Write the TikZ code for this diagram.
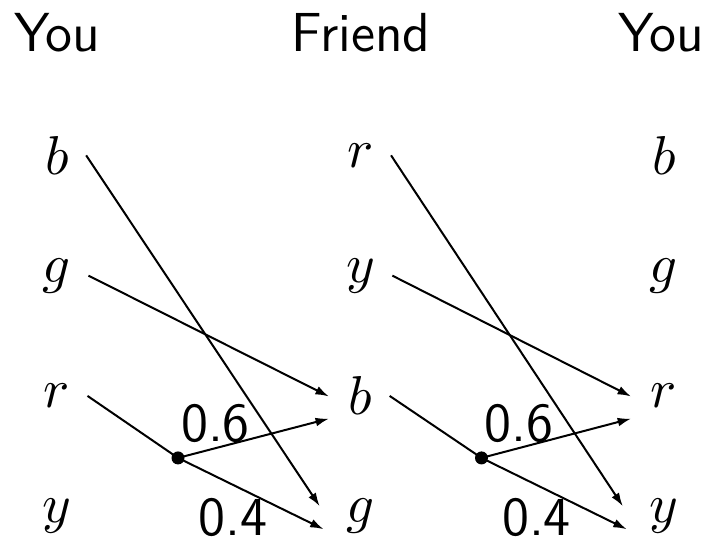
\documentclass[tikz,border=0pt]{standalone}
\usetikzlibrary{arrows.meta}

\begin{document}
\begin{tikzpicture}[x = 0.2pt, y = -0.2pt,
        arr/.style = {-{Latex[length=2.4pt, width=1.6pt]}},
        head/.style = {font=\fontsize{11}{13}\selectfont\sffamily},
        prob/.style = {font=\fontsize{11}{13}\selectfont\sffamily},
        colour/.style = {font=\fontsize{10.5}{12}\selectfont}]
        \useasboundingbox (0, 0) rectangle (708, 539);
        \tikzset{line width = 0.3pt}
        % column headings
        \node[head] (h0) at (57, 33) {You};
        \node[head] (h1) at (361, 33) {Friend};
        \node[head] (h2) at (661, 33) {You};
        % the colours in each column
        \foreach \c/\list in {0/{b,g,r,y}, 1/{r,y,b,g}, 2/{b,g,r,y}}{
            \foreach \l [count = \j] in \list{
                \node[colour] (n\c-\j) at (57 + 303.5*\c, 35 + 120.3*\j) {$\l$};
            }
        }
        % swaps between neighbouring columns
        \foreach \s/\t in {0/1, 1/2}{
            \coordinate (d\s) at ([xshift=24.2pt, yshift=-12.4pt]n\s-3.center);
            \draw[arr] (n\s-1.east) -- ([xshift=-2pt, yshift=2.2pt]n\t-4.west);
            \draw[arr] (n\s-2.east) -- ([xshift=-0.7pt]n\t-3.west);
            \draw (n\s-3.east) -- (d\s);
            \draw[arr] (d\s) -- ([xshift=-0.7pt, yshift=-4.6pt]n\t-3.west);
            \draw[arr] (d\s) -- ([xshift=-1.3pt, yshift=-2.5pt]n\t-4.west);
            \fill[black] (d\s) circle (1.3pt);
            \node[prob] (six\s) at ([xshift=7.5pt, yshift=6.8pt]d\s) {0.6};
            \node[prob] (four\s) at ([xshift=11pt, yshift=-12pt]d\s) {0.4};
        }
    \end{tikzpicture}
\end{document}
